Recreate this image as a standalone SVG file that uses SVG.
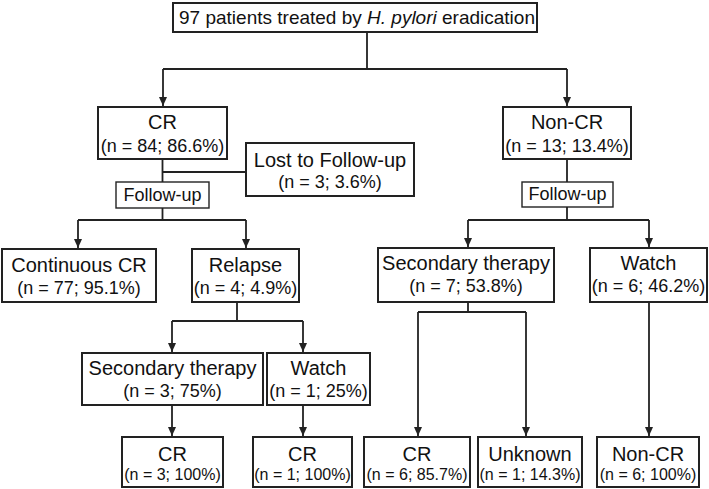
<svg xmlns="http://www.w3.org/2000/svg" width="709" height="489" viewBox="0 0 709 489">
<style>
.box{fill:#fff;stroke:#222;stroke-width:2}
.t{font-family:"Liberation Sans",Arial,sans-serif;font-size:20px;fill:#111;text-anchor:middle}
.s{font-family:"Liberation Sans",Arial,sans-serif;font-size:18px;fill:#111;text-anchor:middle}
.b{font-family:"Liberation Sans",Arial,sans-serif;font-size:16px;fill:#111;text-anchor:middle}
.c{fill:none;stroke:#222;stroke-width:1.8}
.a{marker-end:url(#arr)}
</style>
<defs>
<marker id="arr" markerUnits="userSpaceOnUse" markerWidth="8" markerHeight="9" refX="4" refY="9" orient="auto-start-reverse" viewBox="0 0 8 9">
<path d="M0,0 L8,0 L4,9 Z" fill="#222" transform="rotate(-90 4 4.5) translate(0 0)"/>
</marker>
<marker id="dn" markerUnits="userSpaceOnUse" markerWidth="8" markerHeight="9" refX="4" refY="9" orient="0" viewBox="0 0 8 9">
<path d="M0,0 L8,0 L4,9 Z" fill="#222"/>
</marker>
</defs>
<rect width="709" height="489" fill="#fff"/>
<g id="connectors">
<path class="c" d="M367,32 V69 M163,69 H567"/>
<path class="c" d="M163,69 V106" marker-end="url(#dn)"/>
<path class="c" d="M567,69 V106" marker-end="url(#dn)"/>
<path class="c" d="M162.5,159 V182 M162.5,172 H246"/>
<path class="c" d="M162.5,208 V220 M78,220 H246"/>
<path class="c" d="M78,220 V248" marker-end="url(#dn)"/>
<path class="c" d="M246,220 V248" marker-end="url(#dn)"/>
<path class="c" d="M237,302 V321 M172,321 H303"/>
<path class="c" d="M172,321 V352" marker-end="url(#dn)"/>
<path class="c" d="M303,321 V352" marker-end="url(#dn)"/>
<path class="c" d="M172,405 V436" marker-end="url(#dn)"/>
<path class="c" d="M303,405 V436" marker-end="url(#dn)"/>
<path class="c" d="M567,159 V182 M567,207 V220 M468,220 H649"/>
<path class="c" d="M468,220 V247" marker-end="url(#dn)"/>
<path class="c" d="M649,220 V247" marker-end="url(#dn)"/>
<path class="c" d="M468,302 V312 M418,312 H526"/>
<path class="c" d="M418,312 V436" marker-end="url(#dn)"/>
<path class="c" d="M526,312 V436" marker-end="url(#dn)"/>
<path class="c" d="M649,302 V436" marker-end="url(#dn)"/>
</g>
<g id="top"><rect class="box" x="173" y="3" width="364" height="29"/><text class="t" x="357" y="24" style="font-size:19px">97 patients treated by <tspan font-style="italic">H. pylori</tspan> eradication</text></g>
<g id="cr"><rect class="box" x="98" y="107" width="129" height="52"/><text class="t" x="162.5" y="129">CR</text><text class="s" x="162.5" y="152">(n = 84; 86.6%)</text></g>
<g id="lost"><rect class="box" x="246" y="143" width="168" height="53"/><text class="t" x="330" y="167">Lost to Follow-up</text><text class="s" x="330" y="188">(n = 3; 3.6%)</text></g>
<g id="followup-left"><rect class="box" x="116" y="182" width="93" height="26" style="stroke-width:1.4"/><text class="s" x="162.5" y="201">Follow-up</text></g>
<g id="noncr"><rect class="box" x="503" y="107" width="128" height="52"/><text class="t" x="567" y="129">Non-CR</text><text class="s" x="567" y="152">(n = 13; 13.4%)</text></g>
<g id="followup-right"><rect class="box" x="522" y="182" width="91" height="25" style="stroke-width:1.4"/><text class="s" x="567.5" y="200">Follow-up</text></g>
<g id="continuous-cr"><rect class="box" x="2" y="249" width="154" height="53"/><text class="t" x="79" y="272">Continuous CR</text><text class="s" x="79" y="294">(n = 77; 95.1%)</text></g>
<g id="relapse"><rect class="box" x="192" y="249" width="107" height="53"/><text class="t" x="245.5" y="272">Relapse</text><text class="s" x="245.5" y="294">(n = 4; 4.9%)</text></g>
<g id="secondary-left"><rect class="box" x="82" y="353" width="181" height="52"/><text class="t" x="172.5" y="375">Secondary therapy</text><text class="s" x="172.5" y="397">(n = 3; 75%)</text></g>
<g id="watch-left"><rect class="box" x="267" y="353" width="103" height="52"/><text class="t" x="318.5" y="375">Watch</text><text class="s" x="318.5" y="397">(n = 1; 25%)</text></g>
<g id="cr-a"><rect class="box" x="122" y="437" width="101" height="50"/><text class="t" x="172.5" y="461">CR</text><text class="b" x="172.5" y="480">(n = 3; 100%)</text></g>
<g id="cr-b"><rect class="box" x="253" y="437" width="99" height="50"/><text class="t" x="302.5" y="461">CR</text><text class="b" x="302.5" y="480">(n = 1; 100%)</text></g>
<g id="secondary-right"><rect class="box" x="378" y="248" width="176" height="54"/><text class="t" x="466" y="270">Secondary therapy</text><text class="s" x="466" y="292">(n = 7; 53.8%)</text></g>
<g id="watch-right"><rect class="box" x="590" y="248" width="117" height="54"/><text class="t" x="648.5" y="270">Watch</text><text class="s" x="648.5" y="292">(n = 6; 46.2%)</text></g>
<g id="cr-c"><rect class="box" x="364" y="437" width="106" height="50"/><text class="t" x="417" y="461">CR</text><text class="b" x="417" y="480">(n = 6; 85.7%)</text></g>
<g id="unknown"><rect class="box" x="478" y="437" width="104" height="50"/><text class="t" x="530" y="461">Unknown</text><text class="b" x="530" y="480">(n = 1; 14.3%)</text></g>
<g id="noncr-b"><rect class="box" x="597" y="437" width="102" height="50"/><text class="t" x="648" y="461">Non-CR</text><text class="b" x="648" y="480">(n = 6; 100%)</text></g>
</svg>
